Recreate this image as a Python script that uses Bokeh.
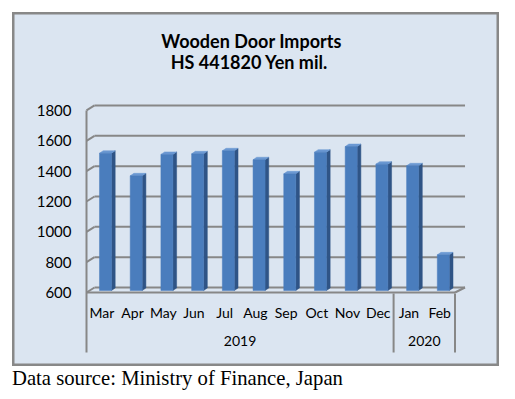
from bokeh.plotting import figure
from bokeh.models import Range1d, LinearAxis, FixedTicker, Div
from bokeh.layouts import column
from bokeh.core.properties import value
from bokeh.embed import file_html
from bokeh.resources import INLINE

# ---- data ----
months = ["Mar", "Apr", "May", "Jun", "Jul", "Aug", "Sep", "Oct", "Nov", "Dec", "Jan", "Feb"]
imports = [1505, 1356, 1497, 1501, 1521, 1462, 1369, 1512, 1549, 1433, 1422, 835]
years = ["2019", "2020"]
year_counts = [10, 2]
y_ticks = [600, 800, 1000, 1200, 1400, 1600, 1800]
title_lines = ["Wooden Door Imports", "HS 441820  Yen mil."]
source_note = "Data source: Ministry of Finance, Japan"

# ---- layout constants (pixels -> data units) ----
SLOT = 30.71          # px per category
VS = 0.1517           # px per value unit
BASE = y_ticks[0]
PX = 1.0 / SLOT
PY = 1.0 / VS
N = len(months)

BG = "#dbe5f1"
GRID = "#878787"
FRONT = "#4a7dbd"
SIDE = "#2f5486"
TOP = "#6b98d2"

# canvas = frame, covering reference pixels x 12..499, y 12..366;
# front-left corner of the floor at x=86, floor front edge at y=292
x0 = (12 - 86) * PX
x1 = (499 - 86) * PX
y1 = BASE + (292 - 12) * PY
y0 = BASE - (366 - 292) * PY

p = figure(width=487, height=354,
           x_range=Range1d(x0, x1), y_range=Range1d(y0, y1),
           output_backend="svg", toolbar_location=None,
           x_axis_location=None, y_axis_location=None,
           min_border_left=0, min_border_right=0, min_border_top=0, min_border_bottom=0,
           background_fill_color=BG, border_fill_color=BG,
           outline_line_color="#888888", outline_line_width=4,
           margin=(12, 0, 0, 12))
p.grid.visible = False

# y axis, fixed at the front-left edge of the floor
ya = LinearAxis(fixed_location=0, ticker=FixedTicker(ticks=y_ticks))
ya.axis_line_color = None
ya.major_tick_out = 0
ya.major_tick_in = 0
ya.minor_tick_out = 0
ya.minor_tick_in = 0
ya.major_label_standoff = 15
ya.major_label_text_font = "Lato"
ya.major_label_text_font_size = "15px"
ya.major_label_text_color = "#000000"
p.add_layout(ya, "left")

# back wall gridlines with 3D depth
dxl = 8 * PX
dxr = 10 * PX
dyv = 5 * PY
for g in y_ticks:
    p.segment(x0=[0], y0=[g], x1=[dxl], y1=[g + dyv], line_color=GRID, line_width=2)
    p.segment(x0=[dxl], y0=[g + dyv], x1=[N + dxr], y1=[g + dyv], line_color=GRID, line_width=2)

# floor front edge and right diagonal
p.segment(x0=[0], y0=[BASE], x1=[N], y1=[BASE], line_color=GRID, line_width=2)
p.segment(x0=[N], y0=[BASE], x1=[N + dxr], y1=[BASE + dyv], line_color=GRID, line_width=2)

# vertical axis line and year separators
bottom_y = BASE - (352 - 292) * PY
p.segment(x0=[0], y0=[y_ticks[-1]], x1=[0], y1=[bottom_y], line_color=GRID, line_width=2)
bounds = []
acc = 0
for c in year_counts:
    acc += c
    bounds.append(acc)
p.segment(x0=bounds, y0=[BASE - 1 * PY] * len(bounds), x1=bounds, y1=[bottom_y] * len(bounds),
          line_color=GRID, line_width=2)

# 3D bars
shift = 3.64 * PX
w = 12 * PX
ofs = 2 * PY
dxb = 3.7 * PX
dyb = 2.5 * PY
cx = [i + 0.5 + shift for i in range(N)]
tops = [v + ofs for v in imports]
bot = BASE + ofs
side_xs, side_ys, top_xs, top_ys = [], [], [], []
for c, t in zip(cx, tops):
    xl, xr = c - w / 2, c + w / 2
    side_xs.append([xr, xr + dxb, xr + dxb, xr])
    side_ys.append([bot, bot + dyb, t + dyb, t])
    top_xs.append([xl, xr, xr + dxb, xl + dxb])
    top_ys.append([t, t, t + dyb, t + dyb])
p.patches(side_xs, side_ys, fill_color=SIDE, line_color=SIDE, line_width=0.5)
p.patches(top_xs, top_ys, fill_color=TOP, line_color=TOP, line_width=0.5)
p.vbar(x=cx, width=w, bottom=bot, top=tops, fill_color=FRONT, line_color=FRONT, line_width=0.5)

# month axis and year axis (fixed at the floor)
tick_x = [i + 0.5 for i in range(N)]
ax_m = LinearAxis(fixed_location=BASE, ticker=FixedTicker(ticks=tick_x),
                  major_label_overrides={t: m for t, m in zip(tick_x, months)})
year_x = []
start = 0
for c in year_counts:
    year_x.append(start + c / 2)
    start += c
ax_y = LinearAxis(fixed_location=BASE, ticker=FixedTicker(ticks=year_x),
                  major_label_overrides={t: yname for t, yname in zip(year_x, years)})
for ax, so in ((ax_m, 11), (ax_y, 43)):
    ax.axis_line_color = None
    ax.major_tick_out = 0
    ax.major_tick_in = 0
    ax.minor_tick_out = 0
    ax.minor_tick_in = 0
    ax.major_label_standoff = so
    ax.major_label_text_font = "Lato"
    ax.major_label_text_font_size = "14px"
    ax.major_label_text_color = "#000000"
    p.add_layout(ax, "below")

# title lines
tx = (251 - 86) * PX
title_y = [BASE + (292 - ypx) * PY for ypx in (40.5, 61)]
p.text(x=[tx] * len(title_lines), y=title_y, text=title_lines,
       text_align="center", text_baseline="middle",
       text_font=value("Lato"), text_font_style="bold",
       text_font_size="18px", text_color="#000000")

div = Div(text=f'<span style="font-family:\'Liberation Serif\';font-size:20.7px;color:#000;'
               f'white-space:nowrap;position:relative;top:-3px">{source_note}</span>',
          width=420, height=24, margin=(1, 0, 0, 12))

layout = column(p, div)
open("out.html", "w").write(file_html(layout, INLINE))
